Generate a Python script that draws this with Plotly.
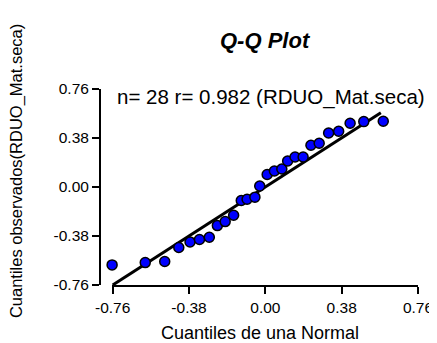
import plotly.graph_objects as go

# Theoretical normal quantiles (x) and observed quantiles (y)
normal_q = [-0.763, -0.598, -0.501, -0.431, -0.375, -0.328, -0.279, -0.239, -0.200,
            -0.158, -0.120, -0.091, -0.052, -0.028, 0.009, 0.045, 0.082, 0.111,
            0.148, 0.188, 0.227, 0.268, 0.315, 0.365, 0.422, 0.490, 0.587]
observed_q = [-0.604, -0.586, -0.578, -0.469, -0.426, -0.407, -0.390, -0.299, -0.268,
              -0.219, -0.105, -0.095, -0.079, 0.008, 0.097, 0.124, 0.140, 0.202,
              0.233, 0.233, 0.324, 0.339, 0.419, 0.432, 0.494, 0.507, 0.510]
ref_line_x = [-0.76, 0.575]
ref_line_y = [-0.76, 0.575]
tick_vals = [-0.76, -0.38, 0.00, 0.38, 0.76]
tick_text = ["-0.76", "-0.38", "0.00", "0.38", "0.76"]

FONT = "Arial, Liberation Sans, sans-serif"
W, H = 437, 343
L, R, T, B = 92, 19, 81, 66
PW = W - L - R
PH = H - T - B

def px_x(p):
    return (p - L) / PW

def px_y(p):
    return (H - B - p) / PH

fig = go.Figure()
fig.add_trace(go.Scatter(x=ref_line_x, y=ref_line_y, mode="lines",
                         line=dict(color="black", width=3), hoverinfo="skip"))
fig.add_trace(go.Scatter(x=normal_q, y=observed_q, mode="markers", cliponaxis=False,
                         marker=dict(size=10, color="#0000ff",
                                     line=dict(color="black", width=1.5))))

fig.update_layout(
    width=W, height=H, showlegend=False,
    paper_bgcolor="white", plot_bgcolor="white",
    margin=dict(l=L, r=R, t=T, b=B, pad=0),
    font=dict(family=FONT, color="black"),
    xaxis=dict(domain=[12 / PW, 1], range=[-0.765, 0.76], tickvals=tick_vals,
               ticktext=tick_text, showgrid=False, zeroline=False,
               showline=True, linecolor="black", linewidth=2,
               ticks="outside", ticklen=7, tickwidth=2, tickcolor="black",
               tickfont=dict(size=15.5, family=FONT, color="black")),
    yaxis=dict(anchor="free", position=0, range=[-0.76, 0.76],
               tickvals=tick_vals, ticktext=tick_text, showgrid=False,
               zeroline=False, showline=True, linecolor="black", linewidth=2,
               ticks="outside", ticklen=7, tickwidth=2, tickcolor="black",
               tickfont=dict(size=15.5, family=FONT, color="black")),
    annotations=[
        dict(text="<b><i>Q-Q Plot</i></b>", x=px_x(262), y=px_y(32),
             xref="paper", yref="paper", showarrow=False,
             xanchor="center", yanchor="middle", font=dict(size=22, family=FONT)),
        dict(text="n= 28 r= 0.982 (RDUO_Mat.seca)", x=px_x(267), y=px_y(89),
             xref="paper", yref="paper", showarrow=False,
             xanchor="center", yanchor="middle", font=dict(size=20.5, family=FONT)),
        dict(text="Cuantiles de una Normal", x=px_x(256), y=px_y(325),
             xref="paper", yref="paper", showarrow=False,
             xanchor="center", yanchor="middle", font=dict(size=18, family=FONT)),
        dict(text="Cuantiles observados(RDUO_Mat.seca)", x=px_x(6), y=px_y(163),
             xref="paper", yref="paper", showarrow=False, textangle=-90,
             xanchor="center", yanchor="middle", font=dict(size=16.5, family=FONT)),
    ],
)

fig.write_html("out.html")
